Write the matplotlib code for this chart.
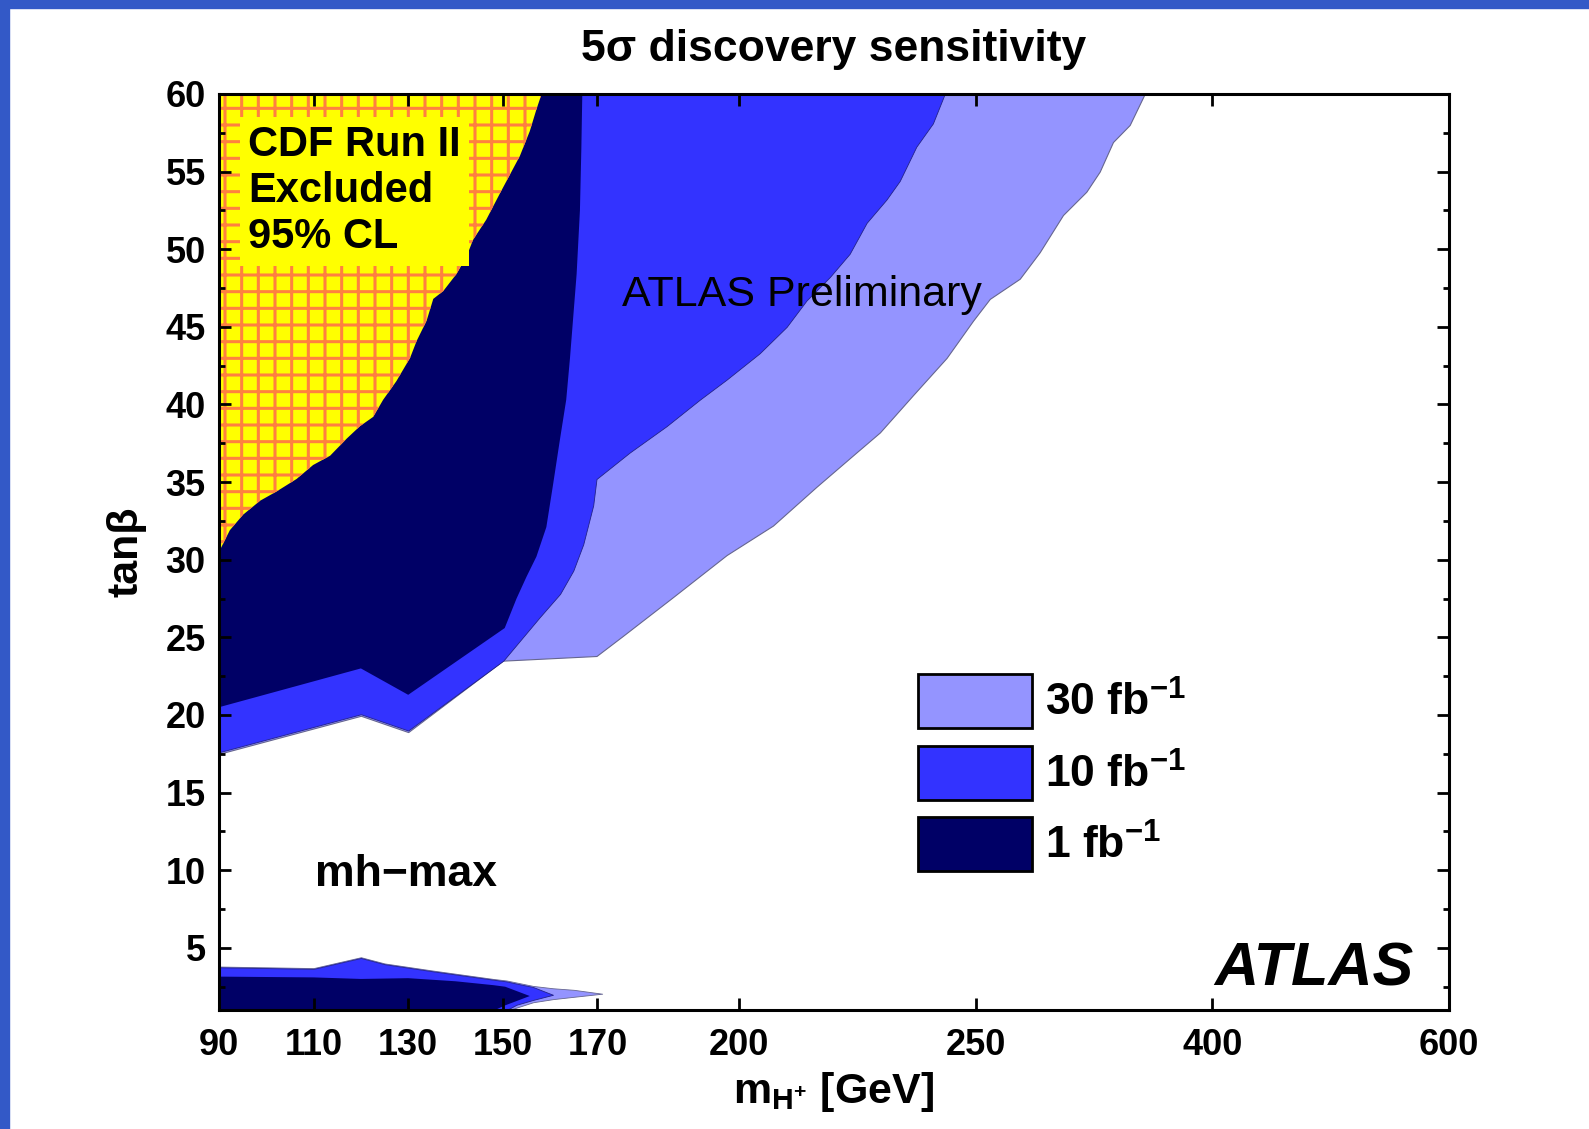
import numpy as np
import matplotlib
matplotlib.use("Agg")
import matplotlib.pyplot as plt
from matplotlib.patches import Patch, Rectangle
from matplotlib.ticker import FixedLocator, MultipleLocator, NullLocator

# axis layout of the original: 90-170 in 20 GeV steps, then 200, 250, 400, 600
mass_ticks = [90, 110, 130, 150, 170, 200, 250, 400, 600]
tick_pos = [0, 1, 2, 3, 4, 5.5, 8, 10.5, 13]
tan_ticks = [5, 10, 15, 20, 25, 30, 35, 40, 45, 50, 55, 60]
YMAX = 60

# boundaries of the 5 sigma discovery regions (region lies above the curve)
mass_30 = [90, 120, 130, 150, 169.8, 175.4, 186.0, 197.3, 207.1, 216.3, 224.7, 229.7,
           236.7, 243.8, 249.4, 258.8, 277.8, 290.4, 305.2, 320.0, 328.5, 336.9, 347.5, 357.0]
tan_30 = [17.5, 19.95, 18.9, 23.5, 23.8, 25.1, 27.6, 30.3, 32.2, 34.7, 36.9, 38.2,
          40.6, 43.0, 45.4, 46.8, 48.1, 49.8, 52.2, 53.7, 55.0, 56.9, 58.0, 60.0]

mass_10 = [90, 120, 130, 150.1, 157.8, 162.1, 164.9, 167.0, 169.1, 169.8, 176.8, 184.6,
           191.6, 197.3, 204.3, 210.0, 214.2, 219.1, 223.3, 226.9, 231.1, 233.9, 237.4, 240.9, 243.4]
tan_10 = [17.6, 20.05, 19.0, 23.5, 26.3, 27.8, 29.3, 31.0, 33.5, 35.2, 36.9, 38.6,
          40.3, 41.6, 43.3, 45.0, 46.7, 48.2, 49.7, 51.7, 53.2, 54.4, 56.6, 58.1, 60.0]

mass_1 = [90, 120, 130, 150.4, 152.9, 155.0, 157.1, 159.2, 160.6, 162.0, 163.4, 164.2,
          164.9, 165.6, 166.3, 166.6, 166.8]
tan_1 = [20.5, 23.0, 21.3, 25.6, 27.5, 28.9, 30.2, 32.1, 34.8, 37.6, 40.3, 43.0,
         45.7, 48.4, 52.5, 56.5, 60.0]

# CDF Run II excluded region (above the curve)
mass_cdf = [90, 92.3, 95.1, 98.7, 102.2, 106.4, 109.9, 113.5, 117.0, 119.8, 122.6, 124.7,
            127.5, 130.4, 131.8, 133.9, 135.3, 137.4, 140.2, 142.3, 143.7, 146.5, 149.4,
            150.8, 153.6, 155.7, 157.1, 158.2]
tan_cdf = [30.5, 31.9, 32.9, 33.8, 34.4, 35.2, 36.1, 36.7, 37.8, 38.6, 39.2, 40.3,
           41.5, 43.0, 44.1, 45.4, 46.8, 47.3, 48.4, 49.5, 50.6, 51.9, 53.6,
           54.4, 56.0, 57.6, 59.0, 60.0]

# low tan(beta) regions
low_mass_30 = [90, 110, 120, 125, 135, 148, 150.8, 156.4, 160.6, 165, 171]
low_hi_30 = [3.8, 3.7, 4.4, 4.0, 3.55, 3.0, 2.9, 2.55, 2.4, 2.3, 2.05]
low_lo_30 = [0, 0, 0, 0, 0, 0, 0.95, 1.5, 1.7, 1.85, 2.05]

low_mass_10 = [90, 110, 120, 125, 135, 148, 150.8, 152.9, 156.4, 160.6]
low_hi_10 = [3.75, 3.65, 4.35, 3.95, 3.5, 2.95, 2.84, 2.7, 2.48, 1.98]
low_lo_10 = [0, 0, 0, 0, 0, 0, 1.0, 1.34, 1.65, 1.98]

low_mass_1 = [90, 110, 120, 130, 140, 148, 150.5, 155.7]
low_hi_1 = [3.15, 3.1, 3.0, 3.05, 2.85, 2.6, 2.5, 1.9]
low_lo_1 = [0, 0, 0, 0, 0, 0.95, 1.3, 1.9]

labels = ["30 fb$^{-1}$", "10 fb$^{-1}$", "1 fb$^{-1}$"]
colors = ["#9494FF", "#3333FF", "#000066"]

plt.rcParams["font.family"] = ["Liberation Sans", "DejaVu Sans"]
plt.rcParams["font.weight"] = "bold"
plt.rcParams["axes.labelweight"] = "bold"
plt.rcParams["mathtext.fontset"] = "custom"
plt.rcParams["mathtext.rm"] = "Liberation Sans:bold"
plt.rcParams["mathtext.bf"] = "Liberation Sans:bold"
plt.rcParams["mathtext.default"] = "rm"
plt.rcParams["hatch.linewidth"] = 2.2
plt.rcParams["hatch.color"] = "#FF8040"


def fwd(m):
    return np.interp(m, mass_ticks, tick_pos)


def inv(p):
    return np.interp(p, tick_pos, mass_ticks)


fig = plt.figure(figsize=(15.89, 11.29), dpi=100)
ax = fig.add_axes([0.1378, 0.1054, 0.7741, 0.8114])
ax.set_xscale("function", functions=(fwd, inv))

# blue frame of the slide
fig.add_artist(Rectangle((0, 0), 9 / 1589, 1, transform=fig.transFigure, color="#3359C7"))
fig.add_artist(Rectangle((0, 1 - 8 / 1129), 1, 8 / 1129, transform=fig.transFigure, color="#3359C7"))

ax.fill_between(mass_30, tan_30, YMAX, facecolor=colors[0], edgecolor="#66668f", linewidth=0.8)
ax.fill_between(mass_10, tan_10, YMAX, facecolor=colors[1], edgecolor="#22228a", linewidth=0.6)
ax.fill_between(mass_1, tan_1, YMAX, facecolor=colors[2], linewidth=0)

ax.fill_between(low_mass_30, low_lo_30, low_hi_30, facecolor=colors[0], edgecolor="#66668f", linewidth=0.6)
ax.fill_between(low_mass_10, low_lo_10, low_hi_10, facecolor=colors[1], edgecolor="#22228a", linewidth=0.6)
ax.fill_between(low_mass_1, low_lo_1, low_hi_1, facecolor=colors[2], linewidth=0)

ax.fill_between(mass_cdf, tan_cdf, YMAX, facecolor="#FFFF00", edgecolor="#FF8040",
                hatch="+", linewidth=0)

ax.set_xlim(90, 600)
ax.set_ylim(1, YMAX)

ax.xaxis.set_major_locator(FixedLocator(mass_ticks))
ax.set_xticklabels([str(m) for m in mass_ticks])
ax.xaxis.set_minor_locator(NullLocator())
ax.yaxis.set_major_locator(FixedLocator(tan_ticks))
ax.yaxis.set_minor_locator(MultipleLocator(2.5))

ax.tick_params(which="both", direction="in", top=True, right=True, width=2, labelsize=26)
ax.tick_params(which="major", length=8.5)
ax.tick_params(which="minor", length=4.3)
ax.tick_params(axis="x", pad=13)
ax.tick_params(axis="y", pad=9.5)
for s in ax.spines.values():
    s.set_linewidth(2.2)

ax.set_title("5σ discovery sensitivity", fontsize=32, fontweight="bold", pad=24)
ax.set_xlabel("$m_{H^{+}}$ [GeV]", fontsize=31, labelpad=5)
ax.set_ylabel("tanβ", fontsize=31, labelpad=14)

ax.text(0.0236, 0.894, "CDF Run II\nExcluded\n95% CL", transform=ax.transAxes,
        fontsize=30, fontweight="bold", ha="left", va="center", linespacing=1.2,
        bbox=dict(facecolor="#FFFF00", edgecolor="none", pad=6))
ax.text(0.3276, 0.7686, "ATLAS Preliminary", transform=ax.transAxes,
        fontsize=31, fontweight="normal", ha="left", va="baseline")
ax.text(0.078, 0.148, "mh−max", transform=ax.transAxes,
        fontsize=32, fontweight="bold", ha="left", va="center")
ax.text(0.9715, 0.027, "ATLAS", transform=ax.transAxes,
        fontsize=44, fontweight="bold", fontstyle="italic", ha="right", va="baseline")

handles = [Patch(facecolor=c, edgecolor="black", linewidth=2) for c in colors]
ax.legend(handles, labels, loc="upper left", bbox_to_anchor=(0.5683, 0.3668),
          frameon=False, fontsize=32, borderpad=0, borderaxespad=0,
          handlelength=2.57, handleheight=1.5, handletextpad=0.29, labelspacing=0.39)

fig.savefig("out.png", dpi=100)
